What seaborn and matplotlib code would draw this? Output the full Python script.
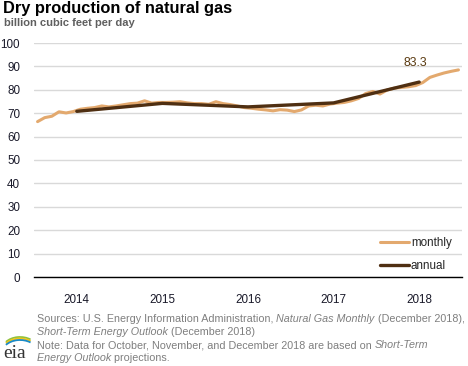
import numpy as np
import pandas as pd
import seaborn as sns
import matplotlib.pyplot as plt
from matplotlib.patches import Arc

# monthly dry gas production, Jan 2014 - Dec 2018 (billion cubic feet per day)
monthly = [66.4, 68.1, 68.7, 70.6, 70.1, 70.7, 71.7, 72.1, 72.4, 73.1, 72.7, 73.1,
           73.6, 74.1, 74.3, 75.3, 74.3, 74.6, 74.6, 74.7, 74.9, 74.4, 74.1, 74.1,
           73.8, 74.9, 74.1, 73.7, 73.1, 72.4, 72.1, 71.7, 71.4, 71.0, 71.5, 71.3,
           70.7, 71.4, 73.1, 73.4, 73.1, 73.9, 74.3, 74.6, 75.3, 76.3, 78.4, 79.3,
           78.2, 79.9, 80.7, 81.0, 81.3, 81.8, 83.1, 85.3, 86.3, 87.2, 87.9, 88.5]
years = [2014, 2015, 2016, 2017, 2018]
annual = [70.8, 74.2, 72.7, 74.4, 83.3]
yticks = list(range(0, 101, 10))

month_x = [years[0] + (i + 0.5) / 12 for i in range(len(monthly))]
year_x = [y + 0.5 for y in years]

df = pd.concat([
    pd.DataFrame({'x': month_x, 'value': monthly, 'series': 'monthly'}),
    pd.DataFrame({'x': year_x, 'value': annual, 'series': 'annual'}),
])

sns.set_style('white')
plt.rcParams['font.family'] = ['Liberation Sans', 'DejaVu Sans']

fig = plt.figure(figsize=(4.68, 3.66), dpi=100)
ax = fig.add_axes([34 / 468, 89 / 366, 428 / 468, 234 / 366])

pal = {'monthly': '#E3A96E', 'annual': '#4f2f12'}
sns.lineplot(data=df[df.series == 'monthly'], x='x', y='value', color=pal['monthly'],
             lw=2.2, ax=ax, label='monthly')
sns.lineplot(data=df[df.series == 'annual'], x='x', y='value', color=pal['annual'],
             lw=2.4, ax=ax, label='annual')

ax.set_xlim(2014, 2019)
ax.set_ylim(0, 100)
ax.set_yticks(yticks)
ax.set_yticklabels([str(t) for t in yticks], fontsize=8.4, color='#1a1a2a')
ax.tick_params(axis='y', length=0, pad=10)
ax.yaxis.grid(True, color='#d9d9d9', lw=1)
ax.set_axisbelow(True)

ax.set_xticks(range(2014, 2020))
ax.set_xticklabels([])
ax.set_xticks(year_x, minor=True)
ax.set_xticklabels([str(y) for y in years], minor=True, fontsize=8.4, color='#1a1a2a')
ax.tick_params(axis='x', which='major', length=5, width=1, color='black', direction='out')
ax.tick_params(axis='x', which='minor', length=0, pad=12)
ax.set_xlabel('')
ax.set_ylabel('')
for s in ['top', 'right', 'left']:
    ax.spines[s].set_visible(False)
ax.spines['bottom'].set_color('black')
ax.spines['bottom'].set_linewidth(1)

ax.text(year_x[-1] - 0.05, annual[-1] + 5.8, f'{annual[-1]:.1f}', ha='center', va='bottom',
        fontsize=8.8, color='#5a3a10')

ax.legend(loc='center left', frameon=False, fontsize=8.4, handlelength=2.45,
          handletextpad=0.2, labelspacing=1.0, bbox_to_anchor=(0.784, 0.096))

fig.text(3 / 468, 1 - 1 / 366, 'Dry production of natural gas', fontsize=11.8,
         fontweight='bold', va='top', ha='left', color='black')
fig.text(4 / 468, 1 - 18 / 366, 'billion cubic feet per day', fontsize=8.0,
         fontweight='bold', va='top', ha='left', color='#5f5f5f')

# footnote with italic titles, chained pieces
gray = '#7f7f7f'
fs = 7.72
lines = [
    [('Sources: U.S. Energy Information Administration, ', 'normal'),
     ('Natural Gas Monthly', 'italic'), (' (December 2018),', 'normal')],
    [('Short-Term Energy Outlook', 'italic'), (' (December 2018)', 'normal')],
    [('Note: Data for October, November, and December 2018 are based on ', 'normal'),
     ('Short-Term', 'italic')],
    [('Energy Outlook', 'italic'), (' projections.', 'normal')],
]
y0 = 319
for i, parts in enumerate(lines):
    prev = None
    for txt, style in parts:
        if prev is None:
            prev = fig.text(37 / 468, 1 - (y0 + i * 13) / 366, txt, fontsize=fs, color=gray,
                            style=style, va='center', ha='left')
        else:
            prev = ax.annotate(txt, xy=(1, 0), xycoords=prev, fontsize=fs, color=gray,
                               style=style, va='bottom', ha='left', annotation_clip=False)

# eia logo
fig.text(3 / 468, 1 - 353 / 366, 'eia', fontsize=14, family='Liberation Serif',
         color='#333333', va='center', ha='left')
for c, r in [('#8fc23f', 0), ('#f2c318', 1.5), ('#1a8ac6', 3)]:
    arc = Arc((20, 16 - r), 36, 26, theta1=45, theta2=150, color=c, lw=1.3,
              transform=None)
    fig.add_artist(arc)

fig.savefig('out.png', dpi=100)
